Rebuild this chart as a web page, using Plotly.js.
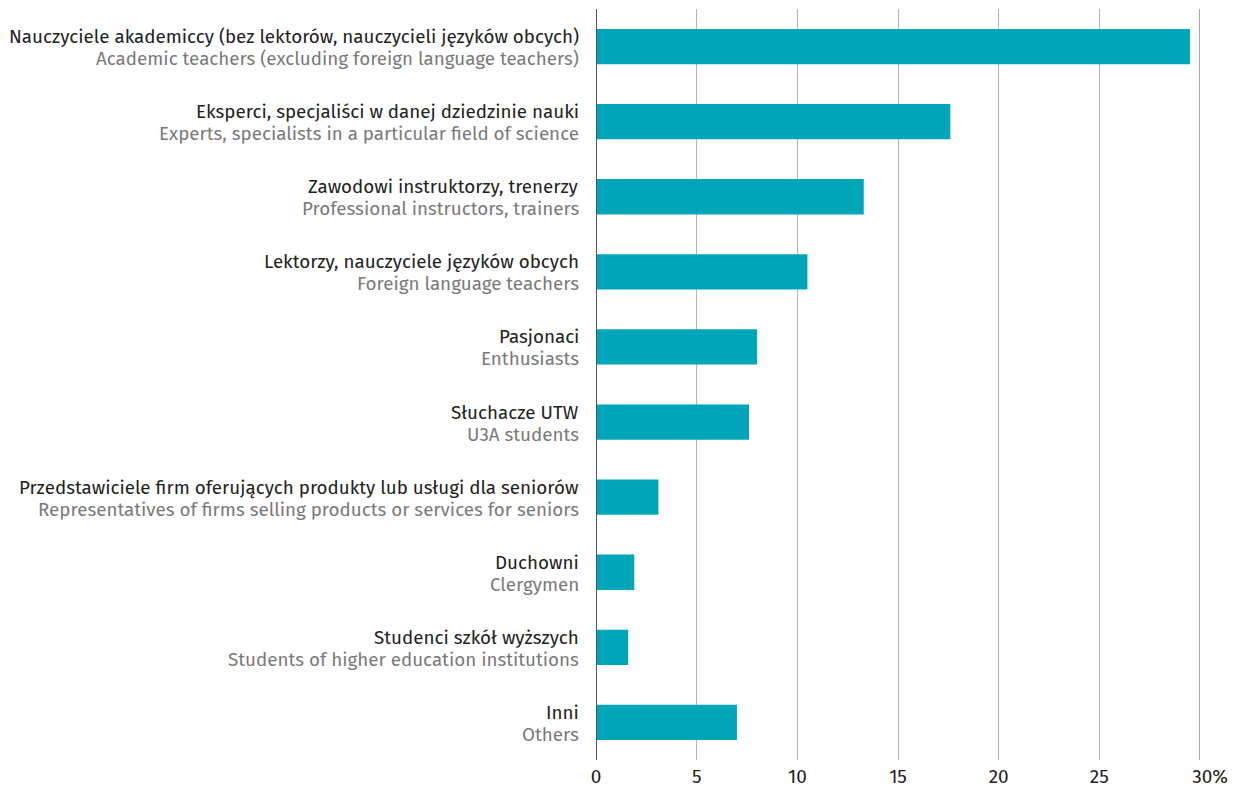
<!DOCTYPE html>
<html>
<head>
<meta charset="utf-8">
<script src="https://cdn.plot.ly/plotly-3.0.1.min.js"></script>
<style>html,body{margin:0;padding:0;background:#fff;}#chart{width:1242px;height:790px;}</style>
</head>
<body>
<div id="chart"></div>
<script>
const labelsPL = [
  "Nauczyciele akademiccy (bez lektorów, nauczycieli języków obcych)",
  "Eksperci, specjaliści w danej dziedzinie nauki",
  "Zawodowi instruktorzy, trenerzy",
  "Lektorzy, nauczyciele języków obcych",
  "Pasjonaci",
  "Słuchacze UTW",
  "Przedstawiciele firm oferujących produkty lub usługi dla seniorów",
  "Duchowni",
  "Studenci szkół wyższych",
  "Inni"
];
const labelsEN = [
  "Academic teachers (excluding foreign language teachers)",
  "Experts, specialists in a particular field of science",
  "Professional instructors, trainers",
  "Foreign language teachers",
  "Enthusiasts",
  "U3A students",
  "Representatives of firms selling products or services for seniors",
  "Clergymen",
  "Students of higher education institutions",
  "Others"
];
const values = [29.5, 17.6, 13.3, 10.5, 8.0, 7.6, 3.1, 1.9, 1.6, 7.0];
const tickVals = [0, 5, 10, 15, 20, 25, 30];
const tickText = ["0", "5", "10", "15", "20", "25", "&nbsp;&nbsp;&nbsp;&nbsp;30%"];

const cats = labelsPL.map((_, i) => i);

const trace = {
  type: "bar",
  orientation: "h",
  x: values,
  y: cats,
  marker: {color: "#00a6b8", line: {width: 0}},
  width: 0.47,
  hoverinfo: "x"
};

const annotations = [];
cats.forEach(i => {
  annotations.push({
    xref: "paper", yref: "y", x: 0, y: i, xanchor: "right", yanchor: "middle",
    xshift: -15, yshift: 10, showarrow: false, text: labelsPL[i],
    font: {size: 18.8, color: "#222"}
  });
  annotations.push({
    xref: "paper", yref: "y", x: 0, y: i, xanchor: "right", yanchor: "middle",
    xshift: -15, yshift: -12, showarrow: false, text: labelsEN[i],
    font: {size: 18.8, color: "#7a7a7a"}
  });
});

const layout = {
  width: 1242, height: 790,
  margin: {l: 596, r: 42, t: 9, b: 30},
  paper_bgcolor: "#fff", plot_bgcolor: "#fff",
  font: {family: "Fira Sans, Noto Sans, sans-serif", size: 16, color: "#222"},
  showlegend: false,
  xaxis: {
    range: [0, 30], tickvals: tickVals, ticktext: tickText,
    showgrid: true, gridcolor: "#b4b4b4", gridwidth: 1,
    zeroline: false, showline: false, ticks: "",
    ticklabelstandoff: 3,
    tickfont: {size: 19, color: "#222"}, fixedrange: true
  },
  yaxis: {
    range: [9.5, -0.5], tickvals: cats, showticklabels: false,
    showgrid: false, zeroline: false, ticks: "", showline: false,
    fixedrange: true
  },
  annotations: annotations,
  shapes: [
    {type: "line", xref: "x", yref: "paper", x0: 0, x1: 0, y0: 0, y1: 1, line: {color: "#555", width: 2}},
    {type: "line", xref: "x", yref: "paper", x0: 30, x1: 30, y0: 0, y1: 1, line: {color: "#888", width: 1.5}}
  ]
};

Plotly.newPlot("chart", [trace], layout, {displayModeBar: false, staticPlot: true});
</script>
</body>
</html>
